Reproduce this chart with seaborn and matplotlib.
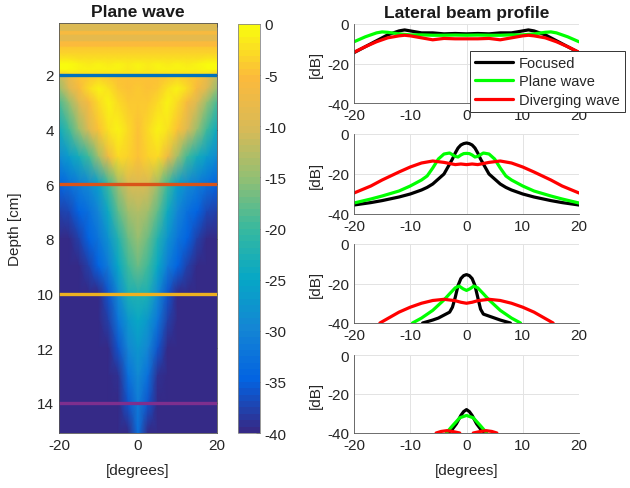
import numpy as np
import pandas as pd
import matplotlib
matplotlib.use("Agg")
import matplotlib.pyplot as plt
import seaborn as sns
from matplotlib.colors import LinearSegmentedColormap

# ---------------- data ----------------
# Plane-wave field image: depth rows (cm) x lateral half-profile (0..20 deg), in dB
lat_half = [0, 2.5, 5, 7.5, 10, 12.5, 15, 17.5, 20]
img_depths = [0.10, 0.38, 0.42, 0.52, 0.56, 0.75, 0.80, 0.95, 1.00, 1.20, 1.45, 1.60, 1.80, 1.95,
              2.10, 2.50, 3.00, 4.00, 5.00, 6.00, 7.00, 8.00, 9.00, 10.0, 11.0, 12.0,
              13.0, 14.0, 15.1]
img_half_rows = [
    [-9.5] * 9,
    [-9.5] * 9,
    [-6] * 9,
    [-6] * 9,
    [-8.5] * 9,
    [-8.5] * 9,
    [-5.5] * 9,
    [-5.5] * 9,
    [-4.2] * 9,
    [-3.5] * 9,
    [-2.2, -2.5, -2, -2.3, -2, -2.3, -2, -1.8, -1.5],
    [-1.2, -1.5, -1, -1.3, -1, -1.3, -1, -0.5, -0.5],
    [-1, -1.5, -0.8, -1.2, -0.8, -1.2, -0.8, -0.3, -0.3],
    [-2, -2, -2, -2, -2, -2, -2, -2.5, -3.5],
    [-5, -5, -4.5, -4, -3.5, -4, -5, -8, -12],
    [-4, -4.5, -4, -2, -1.2, -3, -6, -10, -15],
    [-4, -4, -3, -1.2, -3, -6, -10, -15, -19],
    [-4.5, -3, -1.2, -2, -5, -9.5, -15, -20, -24],
    [-4.5, -3.5, -3, -7, -14, -19.5, -23.5, -26.5, -29],
    [-10, -10.5, -14, -20, -26, -29, -31, -33, -34.5],
    [-13, -14, -18, -24, -30, -33, -35, -37, -38],
    [-15, -17, -22, -28, -32, -35, -38, -40, -40],
    [-17, -20, -25, -31, -35, -38, -40, -40, -40],
    [-22.5, -23, -29, -36, -40, -40, -40, -40, -40],
    [-25, -27, -32, -38, -40, -40, -40, -40, -40],
    [-27, -30, -36, -40, -40, -40, -40, -40, -40],
    [-29, -33, -39, -40, -40, -40, -40, -40, -40],
    [-31, -36, -40, -40, -40, -40, -40, -40, -40],
    [-33, -40, -40, -40, -40, -40, -40, -40, -40],
]
line_depths = [2, 6, 10, 14]

# Lateral beam profiles (x in degrees, y in dB) at depths 2, 6, 10, 14 cm
foc_x_2 = [-20, -18, -16, -14, -12, -11, -10, -8, -6, -4, -2, 0, 2, 4, 6, 8, 10, 11, 12, 14, 16, 18, 20]
foc_y_2 = [-14.5, -11.5, -8.5, -5.5, -3.5, -3, -3.5, -4.5, -4.5, -5, -4.8, -5, -4.8, -5, -4.5, -4.5, -3.5, -3, -3.5, -5.5, -8.5, -11.5, -14.5]
pw_x_2 = [-20, -18, -16, -15, -14, -12, -10, -8, -6, -4, -2, 0, 2, 4, 6, 8, 10, 12, 14, 15, 16, 18, 20]
pw_y_2 = [-9, -6.5, -4.5, -4, -4.2, -5, -5.5, -5.5, -5.7, -5.7, -5.6, -5.7, -5.6, -5.7, -5.7, -5.5, -5.5, -5, -4.2, -4, -4.5, -6.5, -9]
dw_x_2 = [-20, -18, -16, -14, -12, -11, -10, -8, -6, -4, -2, 0, 2, 4, 6, 8, 10, 11, 12, 14, 16, 18, 20]
dw_y_2 = [-14.3, -11.5, -9, -7, -6, -5.7, -6, -7, -8, -7.3, -7.5, -7.5, -7.5, -7.3, -8, -7, -6, -5.7, -6, -7, -9, -11.5, -14.3]

foc_x_6 = [-20, -17, -15, -12, -10, -8, -7, -6, -5, -4, -3.5, -3, -2.5, -2, -1.5, -1, -0.5, 0,
           0.5, 1, 1.5, 2, 2.5, 3, 3.5, 4, 5, 6, 7, 8, 10, 12, 15, 17, 20]
foc_y_6 = [-35.5, -34.3, -33.3, -31.5, -30, -28, -26.7, -25, -22.5, -20, -17.5, -15, -12.5, -9.5, -7, -5.5, -4.8, -4.5,
           -4.8, -5.5, -7, -9.5, -12.5, -15, -17.5, -20, -22.5, -25, -26.7, -28, -30, -31.5, -33.3, -34.3, -35.5]
pw_x_6 = [-20, -17, -15, -12, -10, -8, -7, -6, -5, -4, -3, -2, -1.5, -1, -0.5, 0,
          0.5, 1, 1.5, 2, 3, 4, 5, 6, 7, 8, 10, 12, 15, 17, 20]
pw_y_6 = [-34.5, -32.5, -31, -28.5, -26, -23, -21, -17, -12.5, -10, -9.5, -11.2, -11.5, -10.5, -9.8, -9.7,
          -9.8, -10.5, -11.5, -11.2, -9.5, -10, -12.5, -17, -21, -23, -26, -28.5, -31, -32.5, -34.5]
dw_x_6 = [-20, -17, -15, -12, -10, -8, -6, -4, -2, -1, 0, 1, 2, 4, 6, 8, 10, 12, 15, 17, 20]
dw_y_6 = [-29.5, -26, -23, -19, -16.5, -14.5, -13.5, -14.2, -15.3, -15, -15.3, -15, -15.3, -14.2, -13.5, -14.5, -16.5, -19, -23, -26, -29.5]

foc_x_10 = [-7.8, -6, -5, -4, -3, -2.5, -2, -1.5, -1, -0.5, 0, 0.5, 1, 1.5, 2, 2.5, 3, 4, 5, 6, 7.8]
foc_y_10 = [-40, -38.5, -37.5, -36, -34.5, -32, -27, -21, -17.5, -16, -15.5, -16, -17.5, -21, -27, -33, -35.5, -36.5, -37.5, -38.5, -40]
pw_x_10 = [-9.6, -8, -6, -4, -3, -2, -1.3, -0.6, 0, 0.6, 1.3, 2, 3, 4, 6, 8, 9.6]
pw_y_10 = [-40, -37.5, -33.6, -28.3, -25.2, -22.2, -21.3, -22.7, -23.5, -22.7, -21.3, -22.2, -25.2, -28.3, -33.6, -37.5, -40]
dw_x_10 = [-15.4, -12, -10, -8, -6, -4, -2, -1, 0, 1, 2, 4, 6, 8, 10, 12, 15.4]
dw_y_10 = [-40, -34.5, -32, -30, -28.6, -28, -28.7, -29.5, -30, -29.5, -28.7, -28, -28.6, -30, -32, -34.5, -40]

foc_x_14 = [-3.3, -2.5, -1.8, -1, -0.5, 0, 0.5, 1, 1.8, 2.5, 3.3]
foc_y_14 = [-40, -38, -35.3, -31, -29, -28, -29, -31, -35.3, -38, -40]
pw_x_14 = [-3.6, -2.4, -1.2, 0, 1.2, 2.4, 3.6]
pw_y_14 = [-40, -36, -32.2, -31, -32.2, -36, -40]
dw_x_14_left = [-5.4, -4.5, -3.5, -2.5, -1.2]
dw_y_14_left = [-40, -39.2, -38.8, -39.2, -40]
dw_x_14_right = [1.2, 2.5, 3.5, 4.5, 5.4]
dw_y_14_right = [-40, -39.2, -38.8, -39.2, -40]

series_labels = ["Focused", "Plane wave", "Diverging wave"]
series_colors = ["#000000", "#00FF00", "#FF0000"]
depth_line_colors = ["#0072BD", "#D95319", "#EDB120", "#7E2F8E"]

# ---------------- style ----------------
sns.set_theme(style="white")
plt.rcParams["font.family"] = ["Liberation Sans", "DejaVu Sans"]
plt.rcParams["axes.unicode_minus"] = False
TXT = "#262626"
FS = 11

parula = LinearSegmentedColormap.from_list(
    "parula_like",
    ["#352A87", "#0363E1", "#1485D4", "#06A7C6", "#38B99E",
     "#92BF73", "#D9BA56", "#FCBA3C", "#F9FB0E"], N=64)

fig = plt.figure(figsize=(6.3, 4.89), dpi=100)
W, H = 630, 489


def fa(x0, y0, x1, y1):
    return fig.add_axes([x0 / W, 1 - y1 / H, (x1 - x0) / W, (y1 - y0) / H])


# ---------------- left image ----------------
ax_img = fa(59, 24, 217, 434)
lat_full = [-v for v in lat_half[::-1]] + lat_half[1:]
Z = np.array([row[::-1] + row[1:] for row in img_half_rows], dtype=float)
mesh = ax_img.pcolormesh(lat_full, img_depths, Z, shading="gouraud", cmap=parula, vmin=-40, vmax=0)
for d, c in zip(line_depths, depth_line_colors):
    ax_img.axhline(d, color=c, lw=2.4)
ax_img.set_xlim(-20, 20)
ax_img.set_ylim(15.1, 0.1)
ax_img.set_xticks([-20, 0, 20])
ax_img.set_yticks([2, 4, 6, 8, 10, 12, 14])
ax_img.tick_params(direction="in", length=3, top=True, right=True, labelsize=FS,
                   colors=TXT, width=0.6)
for s in ax_img.spines.values():
    s.set_color("#555555")
    s.set_linewidth(0.6)
ax_img.set_title("Plane wave", fontsize=12.5, fontweight="bold", color="k", pad=5)
ax_img.set_ylabel("Depth [cm]", fontsize=FS, color=TXT, labelpad=11)
ax_img.set_xlabel("[degrees]", fontsize=FS, color=TXT, labelpad=8)

cax = fa(238, 25, 260, 434)
cb = fig.colorbar(mesh, cax=cax, ticks=list(range(-40, 1, 5)))
cb.outline.set_edgecolor("#888888")
cb.outline.set_linewidth(0.6)
cax.tick_params(direction="in", length=3, labelsize=FS, colors=TXT, width=0.6)

# ---------------- right profiles ----------------
panels = [
    ((foc_x_2, foc_y_2), (pw_x_2, pw_y_2), [(dw_x_2, dw_y_2)]),
    ((foc_x_6, foc_y_6), (pw_x_6, pw_y_6), [(dw_x_6, dw_y_6)]),
    ((foc_x_10, foc_y_10), (pw_x_10, pw_y_10), [(dw_x_10, dw_y_10)]),
    ((foc_x_14, foc_y_14), (pw_x_14, pw_y_14), [(dw_x_14_left, dw_y_14_left), (dw_x_14_right, dw_y_14_right)]),
]
tops = [(25, 104), (135, 215), (245, 324), (356, 434)]
LW = 2.3
axes_r = []
for i, ((fx, fy), (px, py), dws) in enumerate(panels):
    ax = fa(354, tops[i][0], 579, tops[i][1])
    axes_r.append(ax)
    sns.lineplot(x=fx, y=fy, ax=ax, color=series_colors[0], lw=LW, sort=False, estimator=None,
                 label=series_labels[0] if i == 0 else None, legend=False)
    sns.lineplot(x=px, y=py, ax=ax, color=series_colors[1], lw=LW, sort=False, estimator=None,
                 label=series_labels[1] if i == 0 else None, legend=False)
    for j, (dx, dy) in enumerate(dws):
        sns.lineplot(x=dx, y=dy, ax=ax, color=series_colors[2], lw=LW, sort=False, estimator=None,
                     label=series_labels[2] if (i == 0 and j == 0) else None, legend=False)
    ax.set_xlim(-20, 20)
    ax.set_ylim(-40, 0)
    ax.set_xticks([-20, -10, 0, 10, 20])
    ax.set_yticks([-40, -20, 0])
    ax.grid(True, color="#e3e3e3", lw=0.7)
    ax.set_axisbelow(True)
    for side in ["top", "right"]:
        ax.spines[side].set_visible(False)
    for side in ["left", "bottom"]:
        ax.spines[side].set_color("#555555")
        ax.spines[side].set_linewidth(0.6)
    ax.tick_params(direction="in", length=3, labelsize=FS, colors=TXT, width=0.6)
    ax.set_ylabel("[dB]", fontsize=FS, color=TXT, labelpad=3)
    ax.set_xlabel("")

axes_r[0].set_title("Lateral beam profile", fontsize=12.5, fontweight="bold", color="k", pad=5)
axes_r[-1].set_xlabel("[degrees]", fontsize=FS, color=TXT, labelpad=8)

h, l = axes_r[0].get_legend_handles_labels()
leg = axes_r[0].legend(h, l, loc="upper left", bbox_to_anchor=(470 / W, 1 - 52 / H),
                       bbox_transform=fig.transFigure, frameon=True, fancybox=False,
                       edgecolor="#333333", framealpha=1, fontsize=10.5, handlelength=2.6,
                       borderpad=0.35, labelspacing=0.3, handletextpad=0.4, borderaxespad=0)
leg.get_frame().set_linewidth(0.7)
for t in leg.get_texts():
    t.set_color(TXT)

fig.savefig("out.png", dpi=100)
